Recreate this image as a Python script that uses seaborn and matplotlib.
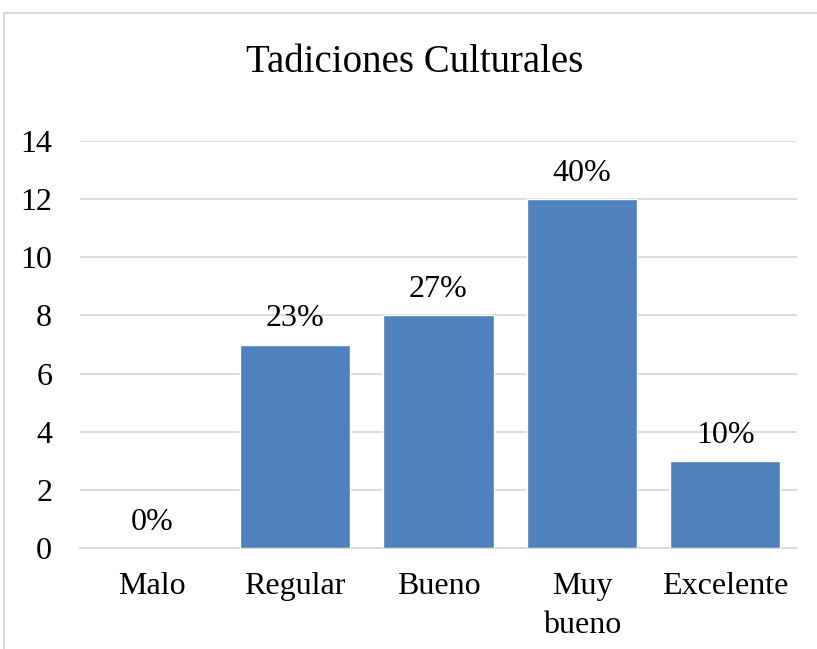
import matplotlib
matplotlib.use("Agg")
import matplotlib.pyplot as plt
import pandas as pd
import seaborn as sns
from matplotlib.patches import Rectangle

categories = ["Malo", "Regular", "Bueno", "Muy\nbueno", "Excelente"]
counts = [0, 7, 8, 12, 3]
percent_labels = ["0%", "23%", "27%", "40%", "10%"]
y_ticks = [0, 2, 4, 6, 8, 10, 12, 14]

sns.set_theme(style="white")
plt.rcParams["font.family"] = ["Liberation Serif", "DejaVu Serif"]

df = pd.DataFrame({"categoria": categories, "frecuencia": counts})

fig = plt.figure(figsize=(8.17, 6.49), dpi=100)
ax = fig.add_axes([0.0979, 0.1556, 0.8776, 0.6271])

sns.barplot(data=df, x="categoria", y="frecuencia", color="#4F81BD",
            width=0.77, saturation=1, ax=ax, zorder=3)

ax.set_ylim(0, 14)
ax.set_xlim(-0.5, len(categories) - 0.5)
ax.set_yticks(y_ticks)
ax.yaxis.grid(True, color="#D9D9D9", linewidth=1.3, zorder=0)
ax.set_axisbelow(True)
for side in ["top", "right", "left"]:
    ax.spines[side].set_visible(False)
ax.spines["bottom"].set_color("#D9D9D9")
ax.spines["bottom"].set_linewidth(1.3)

ax.set_xlabel("")
ax.set_ylabel("")
ax.tick_params(axis="y", length=0, pad=20, labelsize=23, colors="black")
ax.tick_params(axis="x", length=0, pad=17, labelsize=23, colors="black")
for t in ax.get_xticklabels():
    t.set_linespacing(1.45)

for i, (v, lab) in enumerate(zip(counts, percent_labels)):
    ax.annotate(lab, (i, v), xytext=(0, 8), textcoords="offset points",
                ha="center", va="bottom", fontsize=23, color="black")

fig.text(415 / 817, 1 - 62 / 649, "Tadiciones Culturales", fontsize=28,
         ha="center", va="center", color="black")

fig.patches.append(Rectangle((4 / 817, -0.1), 1.0, 1.1 - 13 / 649,
                             transform=fig.transFigure, fill=False,
                             edgecolor="#D9D9D9", linewidth=1.5))

fig.savefig("out.png", dpi=100)
